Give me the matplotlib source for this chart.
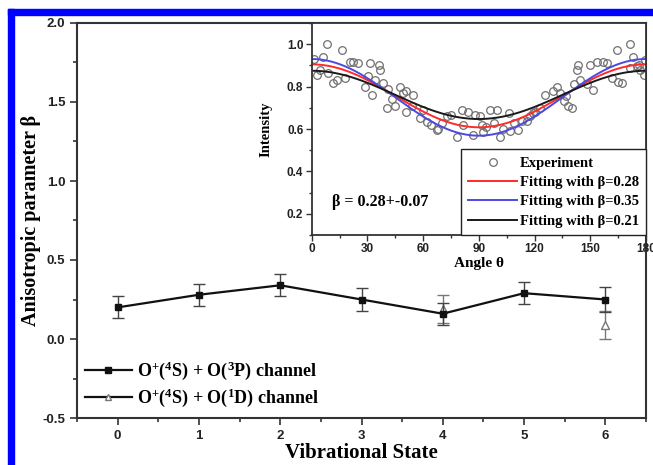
import numpy as np
import matplotlib
matplotlib.use("Agg")
import matplotlib.pyplot as plt
from matplotlib.lines import Line2D
from matplotlib.patches import Rectangle

plt.rcParams['mathtext.fontset'] = 'custom'
plt.rcParams['mathtext.rm'] = 'Liberation Serif:bold'
plt.rcParams['mathtext.bf'] = 'Liberation Serif:bold'
plt.rcParams['mathtext.it'] = 'Liberation Serif:bold'
plt.rcParams['axes.unicode_minus'] = False

# ---------------- data ----------------
states = [0, 1, 2, 3, 4, 5, 6]
beta_3P = [0.20, 0.28, 0.34, 0.25, 0.16, 0.29, 0.25]
err_3P = [0.07, 0.07, 0.07, 0.07, 0.07, 0.07, 0.08]

states_1D = [4, 6]
beta_1D = [0.19, 0.09]
err_1D = [0.09, 0.09]

exp_theta = [8.1, 16.2, 6.3, 1.0, 2.7, 9.0, 11.7, 13.5, 18.0, 20.6, 22.4, 25.0, 31.4, 36.0,
             36.8, 30.5, 34.0, 28.7, 32.3, 38.6, 41.3, 40.4, 45.0, 43.0, 47.6, 49.4, 51.0,
             54.8, 51.0, 54.0, 58.4, 62.0, 67.4, 68.0, 72.7, 75.0, 78.0, 80.8, 84.4, 81.7,
             87.0, 88.0, 90.7, 91.6, 92.5, 96.0, 99.7, 97.9, 101.5, 103.0, 106.0, 107.0,
             111.0, 113.0, 117.6, 119.0, 123.0, 125.7, 130.0, 132.0, 133.8, 135.6, 138.0,
             140.0, 137.0, 141.0, 143.0, 143.6, 144.6, 148.0, 151.7, 150.0, 153.5, 157.0,
             159.0, 161.6, 164.3, 165.0, 167.0, 171.5, 173.0, 171.5, 175.0, 177.0, 178.7,
             179.5, 64.0, 70.0, 94.0, 109.0, 116.0, 60.0, 120.0, 4.5, 176.0]
exp_int = [1.00, 0.973, 0.94, 0.93, 0.855, 0.863, 0.816, 0.83, 0.84, 0.918, 0.918, 0.91,
           0.91, 0.90, 0.88, 0.85, 0.83, 0.80, 0.76, 0.816, 0.79, 0.70, 0.71, 0.74, 0.80,
           0.77, 0.78, 0.76, 0.68, 0.71, 0.65, 0.635, 0.596, 0.60, 0.66, 0.667, 0.564,
           0.69, 0.68, 0.62, 0.57, 0.667, 0.66, 0.62, 0.588, 0.69, 0.69, 0.627, 0.564,
           0.60, 0.675, 0.59, 0.596, 0.64, 0.66, 0.675, 0.70, 0.76, 0.78, 0.80, 0.77,
           0.73, 0.71, 0.70, 0.755, 0.81, 0.88, 0.90, 0.83, 0.81, 0.785, 0.90, 0.918,
           0.918, 0.91, 0.84, 0.973, 0.824, 0.816, 1.00, 0.94, 0.887, 0.895, 0.88, 0.855,
           0.926, 0.62, 0.63, 0.61, 0.63, 0.64, 0.69, 0.68, 0.88, 0.90]

fit_betas = [0.28, 0.35, 0.21]
fit_amps = [0.707, 0.689, 0.723]
fit_colors = ['#ff2a2a', '#4a4ae0', '#1a1a1a']
fit_labels = [r'Fitting with β=0.28', r'Fitting with β=0.35', r'Fitting with β=0.21']

# ---------------- figure ----------------
W, H = 653, 465
fig = plt.figure(figsize=(W / 100, H / 100), dpi=100)

serif = 'Liberation Serif'
sans = 'Liberation Sans'
spine_col = '#333333'

ax = fig.add_axes([77 / W, 1 - 418 / H, (646 - 77) / W, (418 - 23) / H])
ax.errorbar(states, beta_3P, yerr=err_3P, fmt='-s', color='#111111', lw=1.6, ms=5,
            ecolor='#444444', elinewidth=1.0, capsize=4, capthick=1.0, zorder=3)
ax.errorbar(states_1D, beta_1D, yerr=err_1D, fmt='^', linestyle='none', mfc='white',
            mec='#777777', color='#777777', ms=6, ecolor='#777777', elinewidth=1.0,
            capsize=4, capthick=1.0, zorder=2)
ax.set_xlim(-0.5, 6.5)
ax.set_ylim(-0.5, 2.0)
ax.set_xticks(states)
ax.set_xticks(np.arange(-0.5, 6.6, 0.5), minor=True)
ax.set_yticks([-0.5, 0.0, 0.5, 1.0, 1.5, 2.0])
ax.set_yticks(np.arange(-0.5, 2.01, 0.25), minor=True)
ax.tick_params(which='both', direction='out', color=spine_col, width=1.2)
ax.tick_params(which='major', length=5)
ax.tick_params(which='minor', length=3)
ax.tick_params(labelsize=9.5)
for lab in ax.get_xticklabels() + ax.get_yticklabels():
    lab.set_fontfamily(sans)
    lab.set_fontweight('bold')
    lab.set_color('#222222')
for s in ax.spines.values():
    s.set_linewidth(1.5)
    s.set_color(spine_col)
ax.set_xlabel('Vibrational State', fontfamily=serif, fontweight='bold', fontsize=15, labelpad=1)
ax.set_ylabel('Anisotropic parameter β', fontfamily=serif, fontweight='bold', fontsize=14.5, labelpad=1)

h1 = Line2D([], [], color='#111111', lw=1.6, marker='s', ms=5)
h2 = Line2D([], [], color='#111111', lw=1.6, marker='^', ms=5, mfc='white', mec='#777777')
ax.legend([h1, h2],
          [r'O$^{+}$($^{4}$S) + O($^{3}$P) channel', r'O$^{+}$($^{4}$S) + O($^{1}$D) channel'],
          loc='lower left', bbox_to_anchor=(-0.005, -0.005), frameon=False,
          prop={'family': serif, 'weight': 'bold', 'size': 13},
          handlelength=2.6, handletextpad=0.3, labelspacing=0.25, borderaxespad=0.2)

# ---------------- inset ----------------
ins = fig.add_axes([311.7 / W, 1 - 235 / H, (646 - 311.7) / W, (235 - 23) / H])
ins.plot(exp_theta, exp_int, 'o', mfc='none', mec='#707070', ms=5.5, mew=0.9, label='Experiment')
theta = np.linspace(0, 180, 361)
p2 = 0.5 * (3 * np.cos(np.radians(theta)) ** 2 - 1)
for b, a, c, l in zip(fit_betas, fit_amps, fit_colors, fit_labels):
    ins.plot(theta, a * (1 + b * p2), color=c, lw=1.4, label=l)
ins.set_xlim(0, 180)
ins.set_ylim(0.1, 1.1)
ins.set_xticks(np.arange(0, 181, 30))
ins.set_xticks(np.arange(0, 181, 15), minor=True)
ins.set_yticks([0.2, 0.4, 0.6, 0.8, 1.0])
ins.set_yticks(np.arange(0.1, 1.11, 0.1), minor=True)
ins.tick_params(which='both', direction='out', color=spine_col, width=1.0)
ins.tick_params(which='major', length=4)
ins.tick_params(which='minor', length=2.5)
ins.tick_params(labelsize=8.5, pad=2)
for lab in ins.get_xticklabels() + ins.get_yticklabels():
    lab.set_fontfamily(sans)
    lab.set_fontweight('bold')
    lab.set_color('#222222')
for s in ins.spines.values():
    s.set_linewidth(1.3)
    s.set_color(spine_col)
ins.set_xlabel('Angle θ', fontfamily=serif, fontweight='bold', fontsize=11, labelpad=1)
ins.set_ylabel('Intensity', fontfamily=serif, fontweight='bold', fontsize=10.5, labelpad=10)
ins.text(0.06, 0.155, 'β = 0.28+-0.07', transform=ins.transAxes, fontfamily=serif,
         fontweight='bold', fontsize=11.5, va='center', ha='left')
leg = ins.legend(loc='lower right', borderaxespad=0, fancybox=False, framealpha=1,
                 edgecolor='#222222', prop={'family': serif, 'weight': 'bold', 'size': 10.5},
                 handlelength=3.4, handletextpad=0.15, labelspacing=0.42, borderpad=0.5)
leg.get_frame().set_linewidth(1.0)

# blue border
fig.patches.append(Rectangle((8 / W, 1 - 15 / H), 1 - 8 / W, 6 / H, transform=fig.transFigure,
                             color='#0000ff', zorder=10))
fig.patches.append(Rectangle((8 / W, 0), 6 / W, 1 - 9 / H, transform=fig.transFigure,
                             color='#0000ff', zorder=10))

fig.savefig('out.png', dpi=100)
